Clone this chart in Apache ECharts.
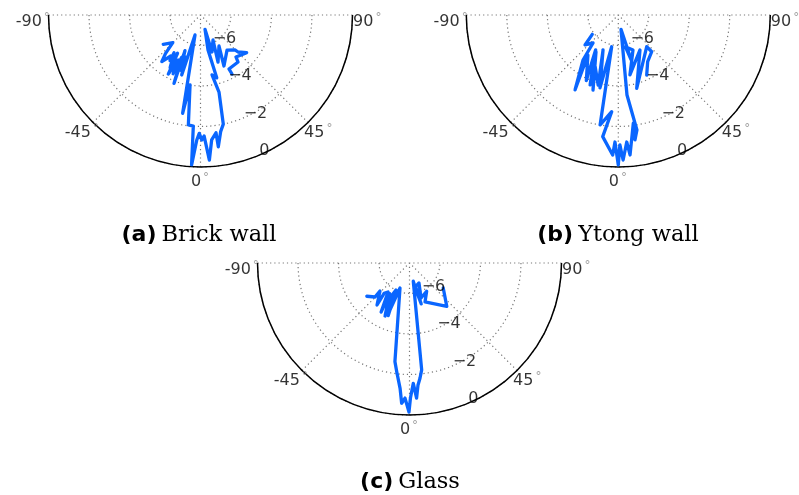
<!DOCTYPE html>
<html>
<head>
<meta charset="utf-8">
<script src="https://cdn.jsdelivr.net/npm/echarts@6/dist/echarts.min.js"></script>
<style>
  html, body { margin: 0; padding: 0; background: #fff; }
  #chart { width: 799px; height: 495px; }
</style>
</head>
<body>
<div id="chart"></div>
<script>
// Angular ticks (degrees) and radial ticks (dB)
const angleTicks = [-90, -45, 0, 45, 90];
const radiusTicks = [-6, -4, -2, 0];
const radiusMin = -7.5;
const radiusMax = 0;

// Panel captions
const captionTags = ['(a)', '(b)', '(c)'];
const captionNames = ['Brick wall', 'Ytong wall', 'Glass'];

// (a) Brick wall: angle (deg) / level
const brickAngle = [-51.8, -45.1, -42.3, -39.7, -36.0, -33.7, -35.1, -30.0, -31.0, -28.6,
  -26.3, -25.0, -24.0, -21.2, -23.5, -20.0, -19.0, -17.4, -15.4, -10.3,
  -8.5, -6.3, -3.7, -3.4, -1.7, -0.6, 0.6, 1.7, 3.5, 5.1,
  7.5, 7.7, 9.8, 11.8, 13.5, 10.9, 14.5, 12.1, 17.5, 17.3,
  26.6, 20.4, 30.8, 24.7, 37.1, 44.6, 45.4, 50.8, 40.2, 38.6,
  27.8, 28.1];
const brickValue = [-5.16, -5.57, -4.94, -4.51, -5.00, -4.79, -5.23, -4.50, -5.30, -4.18,
  -5.02, -4.30, -5.20, -3.88, -5.58, -4.60, -5.30, -4.40, -6.48, -2.57,
  -4.01, -2.04, -2.01, -0.08, -1.33, -1.66, -1.33, -1.53, -0.33, -1.31,
  -1.64, -0.94, -1.66, -2.00, -3.59, -4.49, -4.30, -5.73, -6.76, -5.59,
  -6.12, -5.02, -5.72, -4.73, -5.33, -5.08, -4.90, -4.56, -4.79, -4.53,
  -4.49, -4.20];

// (b) Ytong wall
const ytongAngle = [-53.4, -48.0, -42.1, -38.1, -30.0, -37.2, -26.0, -33.0, -22.0, -31.1,
  -18.6, -27.0, -16.0, -23.6, -14.1, -11.8, -9.4, -3.9, -7.3, -2.3,
  -1.5, 0.0, 0.7, 1.9, 3.8, 4.8, 7.9, 7.6, 9.2, 6.2,
  10.7, 16.0, 12.5, 22.8, 11.0, 31.8, 14.1, 41.9, 42.3, 32.2,
  25.3];
const ytongValue = [-5.90, -5.29, -5.64, -4.68, -3.23, -5.02, -3.90, -5.45, -3.78, -5.37,
  -3.59, -4.90, -3.90, -5.62, -3.79, -5.90, -2.00, -2.72, -1.45, -0.59,
  -1.23, -0.10, -1.09, -0.34, -1.22, -0.57, -2.11, -1.28, -1.75, -3.53,
  -6.78, -5.20, -5.90, -5.63, -4.49, -5.47, -3.77, -5.40, -5.05, -4.78,
  -4.22];

// (c) Glass
const glassAngle = [-52.1, -45.4, -46.5, -37.7, -40.0, -36.5, -30.0, -33.0, -24.8, -29.0,
  -26.6, -22.0, -25.0, -22.7, -20.8, -8.4, -6.7, -4.3, -3.2, -1.9,
  -0.2, 0.4, 1.8, 3.0, 4.0, 5.2, 6.5, 11.7, 13.5, 16.0,
  14.5, 25.4, 18.2, 31.3, 21.7, 40.7, 53.5];
const glassValue = [-4.83, -5.11, -5.49, -4.88, -5.55, -5.72, -4.70, -5.70, -4.62, -5.60,
  -6.01, -4.70, -5.80, -4.88, -6.18, -2.58, -2.10, -1.30, -0.57, -0.83,
  -0.15, -0.84, -1.56, -0.82, -1.47, -1.79, -2.19, -6.58, -6.13, -5.40,
  -6.30, -6.41, -5.68, -5.87, -5.43, -4.68, -5.43];

const panels = [
  { angle: brickAngle, value: brickValue, center: [200.5, 15] },
  { angle: ytongAngle, value: ytongValue, center: [618.3, 15] },
  { angle: glassAngle, value: glassValue, center: [409.5, 263] }
];
const captionPos = [[199, 222], [618, 222], [410, 469]];

const RADIUS = 152;
const LINE_BLUE = '#0a66ff';
const GRID_GREY = '#777';
const GRID_DASH = [1.2, 3];
const SANS = 'DejaVu Sans';
const angleLabelGap = 0.75;   // radial gap of the angle labels beyond the rim, in axis units
const radiusLabelAngle = 22.5;

const fmtRadius = v => (v < 0 ? '\u2212' + Math.abs(v) : String(v));

const option = {
  backgroundColor: '#fff',
  animation: false,
  title: panels.map((p, i) => ({
    text: '{b|' + captionTags[i] + '} {s|' + captionNames[i] + '}',
    left: captionPos[i][0],
    top: captionPos[i][1],
    textAlign: 'center',
    padding: 0,
    textStyle: {
      fontWeight: 'normal',
      rich: {
        b: { fontFamily: SANS, fontWeight: 'bold', fontSize: 22, color: '#000', lineHeight: 26 },
        s: { fontFamily: 'DejaVu Serif', fontWeight: 'normal', fontSize: 22.5, color: '#000', lineHeight: 26 }
      }
    }
  })),
  polar: panels.map(p => ({ center: p.center, radius: RADIUS })),
  angleAxis: panels.map((p, i) => ({
    polarIndex: i,
    type: 'value',
    min: -90,
    max: 90,
    interval: 45,
    startAngle: 180,
    endAngle: 360,
    clockwise: false,
    axisLine: { show: true, lineStyle: { color: '#000', width: 1.5 } },
    axisTick: { show: false },
    axisLabel: { show: false },
    splitLine: { show: true, lineStyle: { color: GRID_GREY, type: GRID_DASH, width: 1.2 } }
  })),
  radiusAxis: panels.map((p, i) => ({
    polarIndex: i,
    type: 'value',
    min: radiusMin,
    max: radiusMax,
    interval: 0.5,
    axisLine: { show: false },
    axisTick: { show: false },
    axisLabel: { show: false },
    splitLine: {
      show: true,
      lineStyle: {
        // only every fourth step (-6, -4, -2, 0) gets a ring
        color: ['rgba(0,0,0,0)', 'rgba(0,0,0,0)', 'rgba(0,0,0,0)', GRID_GREY],
        type: GRID_DASH,
        width: 1.2
      }
    }
  })),
  series: []
};

panels.forEach((p, i) => {
  option.series.push({
    type: 'line',
    coordinateSystem: 'polar',
    polarIndex: i,
    data: p.angle.map((a, k) => [p.value[k], a]),
    symbol: 'none',
    lineStyle: { color: LINE_BLUE, width: 3.3, join: 'round', cap: 'round' },
    z: 5
  });
  // angle tick labels just outside the rim
  option.series.push({
    type: 'scatter',
    coordinateSystem: 'polar',
    polarIndex: i,
    clip: false,
    symbolSize: 1,
    itemStyle: { color: 'rgba(0,0,0,0)' },
    data: angleTicks.map(a => ({
      value: [radiusMax + angleLabelGap, a],
      label: Math.abs(a) === 90 ? { offset: [0, 7] } : {}
    })),
    label: {
      show: true,
      position: [0, 0],
      align: 'center',
      verticalAlign: 'middle',
      formatter: d => '{n|' + d.value[1] + '}{d|\u00b0}',
      rich: {
        n: { fontFamily: SANS, fontSize: 16, color: '#000', lineHeight: 20 },
        d: { fontFamily: SANS, fontSize: 12, color: '#888', verticalAlign: 'top', padding: [0, 0, 0, 2] }
      }
    },
    silent: true,
    z: 6
  });
  // radial tick labels along the 22.5 degree ray
  option.series.push({
    type: 'scatter',
    coordinateSystem: 'polar',
    polarIndex: i,
    clip: false,
    symbolSize: 1,
    itemStyle: { color: 'rgba(0,0,0,0)' },
    data: radiusTicks.map(r => [r, radiusLabelAngle]),
    label: {
      show: true,
      position: [0, 0],
      align: 'left',
      verticalAlign: 'bottom',
      offset: [1, 4],
      formatter: d => fmtRadius(d.value[0]),
      fontFamily: SANS,
      fontSize: 16,
      color: '#000'
    },
    silent: true,
    z: 6
  });
});

const chart = echarts.init(document.getElementById('chart'), null, { renderer: 'canvas' });
chart.setOption(option);
</script>
</body>
</html>
